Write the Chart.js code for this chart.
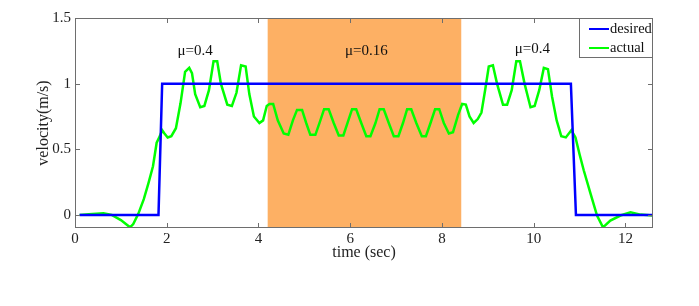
<!DOCTYPE html>
<html>
<head>
<meta charset="utf-8">
<script src="https://cdn.jsdelivr.net/npm/chart.js@4/dist/chart.umd.min.js"></script>
<style>
  html, body { margin: 0; padding: 0; background: #fff; }
  #wrap { width: 699px; height: 306px; position: relative; }
</style>
</head>
<body>
<div id="wrap"><canvas id="c" width="699" height="306"></canvas></div>
<script>
// ---- data ----
const desiredX = [0.1, 1.82, 1.9, 10.81, 10.92, 12.6];
const desiredY = [0, 0, 1, 1, 0, 0];

const actualX = [0.1, 0.3, 0.62, 0.8, 1.0, 1.2, 1.27, 1.38, 1.5, 1.6, 1.7, 1.78, 1.85, 1.9, 1.95, 2.02, 2.1, 2.2, 2.3, 2.4, 2.49, 2.55, 2.62, 2.73, 2.82, 2.92, 3.02, 3.1, 3.18, 3.32, 3.42, 3.52, 3.62, 3.72, 3.8, 3.9, 4.02, 4.1, 4.18, 4.24, 4.32, 4.42, 4.55, 4.65, 4.75, 4.84, 4.95, 5.04, 5.13, 5.24, 5.34, 5.43, 5.53, 5.64, 5.75, 5.85, 5.95, 6.04, 6.13, 6.24, 6.35, 6.44, 6.55, 6.64, 6.73, 6.84, 6.95, 7.05, 7.15, 7.24, 7.33, 7.44, 7.56, 7.65, 7.75, 7.85, 7.94, 8.04, 8.15, 8.24, 8.35, 8.44, 8.52, 8.6, 8.69, 8.78, 8.86, 8.94, 9.02, 9.11, 9.2, 9.33, 9.42, 9.52, 9.62, 9.7, 9.8, 9.93, 10.02, 10.12, 10.22, 10.31, 10.4, 10.5, 10.6, 10.7, 10.82, 10.91, 11.0, 11.09, 11.24, 11.38, 11.51, 11.67, 11.89, 12.11, 12.33, 12.62];
const actualY = [0, 0.005, 0.012, 0.0, -0.04, -0.095, -0.07, 0.008, 0.12, 0.24, 0.37, 0.55, 0.6, 0.645, 0.62, 0.59, 0.6, 0.66, 0.85, 1.09, 1.12, 1.08, 0.92, 0.82, 0.83, 0.95, 1.17, 1.17, 1.0, 0.84, 0.83, 0.93, 1.14, 1.13, 0.92, 0.75, 0.70, 0.72, 0.83, 0.845, 0.845, 0.72, 0.62, 0.61, 0.72, 0.80, 0.80, 0.70, 0.61, 0.61, 0.71, 0.805, 0.805, 0.70, 0.605, 0.605, 0.71, 0.805, 0.805, 0.70, 0.6, 0.6, 0.70, 0.805, 0.805, 0.70, 0.6, 0.6, 0.70, 0.805, 0.805, 0.70, 0.6, 0.6, 0.70, 0.805, 0.805, 0.70, 0.62, 0.63, 0.76, 0.845, 0.84, 0.75, 0.70, 0.73, 0.78, 0.95, 1.13, 1.14, 1.0, 0.84, 0.84, 0.95, 1.17, 1.17, 1.0, 0.82, 0.83, 0.95, 1.12, 1.11, 0.9, 0.72, 0.60, 0.59, 0.645, 0.59, 0.46, 0.34, 0.16, -0.005, -0.095, -0.044, -0.005, 0.02, 0.002, -0.005];

const xTicks = [0, 2, 4, 6, 8, 10, 12];
const yTicks = [0, 0.5, 1, 1.5];
const xRange = [0, 12.6];
const yRange = [-0.1, 1.5];
const shadedRegion = [4.2, 8.42];
const annotations = [
  { text: 'μ=0.4', x: 2.62, y: 1.245 },
  { text: 'μ=0.16', x: 6.35, y: 1.245 },
  { text: 'μ=0.4', x: 9.97, y: 1.26 }
];
const seriesLabels = ['desired', 'actual'];

// ---- chart ----
const FONT = 'Liberation Serif';
const toPts = (xs, ys) => xs.map((x, i) => ({ x: x, y: ys[i] }));

const bandPlugin = {
  id: 'band',
  beforeDatasetsDraw(chart) {
    const { ctx, chartArea, scales } = chart;
    const x0 = scales.x.getPixelForValue(shadedRegion[0]);
    const x1 = scales.x.getPixelForValue(shadedRegion[1]);
    ctx.save();
    ctx.fillStyle = '#fdb064';
    ctx.fillRect(x0, chartArea.top, x1 - x0, chartArea.bottom - chartArea.top);
    ctx.restore();
  }
};

const framePlugin = {
  id: 'frame',
  afterDatasetsDraw(chart) {
    const { ctx, chartArea: a, scales } = chart;
    ctx.save();
    ctx.strokeStyle = '#6e6e6e';
    ctx.lineWidth = 1;
    ctx.strokeRect(a.left + 0.5, a.top + 0.5, a.right - a.left - 1, a.bottom - a.top - 1);
    const L = 5;
    ctx.beginPath();
    xTicks.forEach(v => {
      const px = Math.round(scales.x.getPixelForValue(v)) + 0.5;
      ctx.moveTo(px, a.bottom); ctx.lineTo(px, a.bottom - L);
      ctx.moveTo(px, a.top); ctx.lineTo(px, a.top + L);
    });
    yTicks.forEach(v => {
      const py = Math.round(scales.y.getPixelForValue(v)) + 0.5;
      ctx.moveTo(a.left, py); ctx.lineTo(a.left + L, py);
      ctx.moveTo(a.right, py); ctx.lineTo(a.right - L, py);
    });
    ctx.stroke();

    // annotations
    ctx.fillStyle = '#111';
    ctx.font = '15px "' + FONT + '"';
    ctx.textAlign = 'center';
    ctx.textBaseline = 'middle';
    annotations.forEach(t => {
      ctx.fillText(t.text, scales.x.getPixelForValue(t.x), scales.y.getPixelForValue(t.y));
    });

    // legend box (top right inside plot)
    const bw = 74, bh = 39;
    const bx = a.right - bw, by = a.top;
    ctx.fillStyle = '#fff';
    ctx.fillRect(bx, by, bw, bh);
    ctx.strokeStyle = '#6e6e6e';
    ctx.strokeRect(bx + 0.5, by + 0.5, bw - 1, bh);
    ctx.font = '14.5px "' + FONT + '"';
    ctx.textAlign = 'left';
    chart.data.datasets.forEach((ds, i) => {
      const cy = by + 11 + i * 19;
      ctx.strokeStyle = ds.borderColor;
      ctx.lineWidth = 2;
      ctx.beginPath();
      ctx.moveTo(bx + 10, cy); ctx.lineTo(bx + 30, cy);
      ctx.stroke();
      ctx.fillStyle = '#111';
      ctx.fillText(ds.label, bx + 31, cy);
    });
    ctx.restore();
  }
};

new Chart(document.getElementById('c'), {
  type: 'line',
  data: {
    datasets: [
      { label: seriesLabels[0], data: toPts(desiredX, desiredY), borderColor: '#0000ff', borderWidth: 2.5, pointRadius: 0, tension: 0, fill: false },
      { label: seriesLabels[1], data: toPts(actualX, actualY), borderColor: '#00ff00', borderWidth: 2.5, pointRadius: 0, tension: 0, fill: false }
    ]
  },
  options: {
    responsive: false,
    animation: false,
    devicePixelRatio: 1,
    layout: { padding: { top: 18, right: 46, left: 0, bottom: 0 } },
    plugins: { legend: { display: false }, tooltip: { enabled: false } },
    scales: {
      x: {
        type: 'linear',
        min: xRange[0], max: xRange[1],
        afterBuildTicks: s => { s.ticks = xTicks.map(v => ({ value: v })); },
        afterFit: s => { s.height = 78; },
        grid: { display: false, drawTicks: false },
        border: { display: false },
        ticks: { padding: 2, color: '#222', font: { family: FONT, size: 15 }, maxRotation: 0, callback: v => String(v) },
        title: { display: true, text: 'time (sec)', color: '#222', font: { family: FONT, size: 16 }, padding: { top: 0, bottom: 44 } }
      },
      y: {
        type: 'linear',
        min: yRange[0], max: yRange[1],
        afterBuildTicks: s => { s.ticks = yTicks.map(v => ({ value: v })); },
        afterFit: s => { s.width = 75; },
        grid: { display: false, drawTicks: false },
        border: { display: false },
        ticks: { padding: 4, color: '#222', font: { family: FONT, size: 15 }, callback: v => String(v) },
        title: { display: true, text: 'velocity(m/s)', color: '#222', font: { family: FONT, size: 16 }, padding: { top: 34, bottom: 0 } }
      }
    }
  },
  plugins: [bandPlugin, framePlugin]
});
</script>
</body>
</html>
